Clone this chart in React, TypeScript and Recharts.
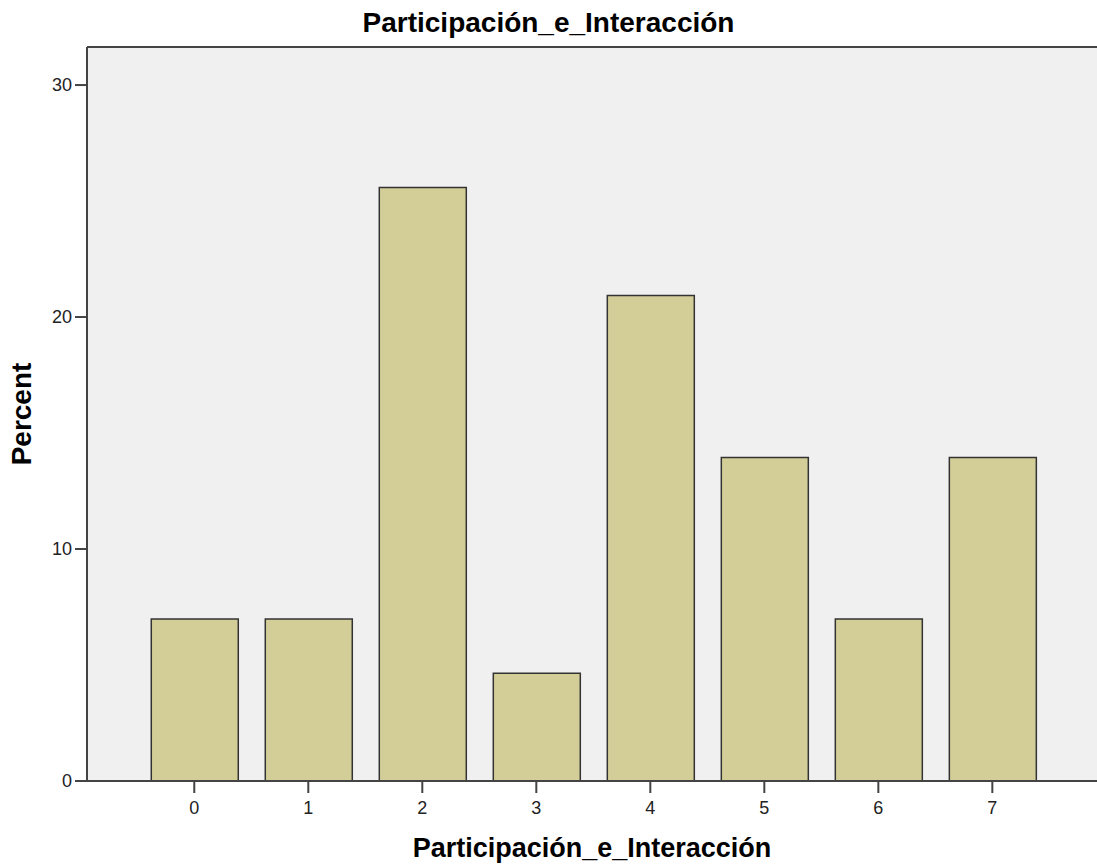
import { BarChart, Bar, XAxis, YAxis, CartesianGrid, ReferenceLine, Label } from 'recharts';

const categories = [0, 1, 2, 3, 4, 5, 6, 7];
const percents = [6.98, 6.98, 25.58, 4.65, 20.93, 13.95, 6.98, 13.95];
const yTicks = [0, 10, 20, 30];

const data = categories.map((c, i) => ({ value: c, percent: percents[i] }));

const FONT = '"Liberation Sans", Arial, sans-serif';
const Y_MAX = 31.64;

export default function App() {
    return (
        <div style={{ position: 'absolute', left: 0, top: 0, width: 1097, height: 866, background: '#fff', fontFamily: FONT }}>
            <div
                style={{
                    position: 'absolute',
                    top: 9,
                    width: 1097,
                    textAlign: 'center',
                    fontWeight: 'bold',
                    fontSize: 28,
                    lineHeight: '28px',
                    color: '#000',
                }}
            >
                Participación_e_Interacción
            </div>
            <BarChart width={1097} height={866} data={data} margin={{ top: 47, right: 0, left: 0, bottom: 0 }}>
                <CartesianGrid fill="#F0F0F0" horizontal={false} vertical={false} />
                <XAxis
                    type="number"
                    dataKey="value"
                    domain={[-0.941, 7.918]}
                    ticks={categories}
                    height={85}
                    tickSize={12}
                    tickMargin={8}
                    tick={{ fontSize: 18, fill: '#222', fontFamily: FONT }}
                    axisLine={{ stroke: '#444', strokeWidth: 2 }}
                    tickLine={{ stroke: '#444', strokeWidth: 2 }}
                    allowDataOverflow
                >
                    <Label
                        value="Participación_e_Interacción"
                        position="insideBottom"
                        offset={9}
                        style={{ fontWeight: 'bold', fontSize: 27, fill: '#000', fontFamily: FONT }}
                    />
                </XAxis>
                <YAxis
                    type="number"
                    domain={[0, Y_MAX]}
                    ticks={yTicks}
                    width={87}
                    tickSize={12}
                    tickMargin={3}
                    tick={{ fontSize: 18, fill: '#222', fontFamily: FONT }}
                    axisLine={{ stroke: '#444', strokeWidth: 2 }}
                    tickLine={{ stroke: '#444', strokeWidth: 2 }}
                    allowDataOverflow
                >
                    <Label
                        value="Percent"
                        angle={-90}
                        position="insideLeft"
                        offset={21}
                        style={{ fontWeight: 'bold', fontSize: 28, fill: '#000', fontFamily: FONT, textAnchor: 'middle' }}
                    />
                </YAxis>
                <ReferenceLine y={Y_MAX} stroke="#444" strokeWidth={2} />
                <Bar
                    dataKey="percent"
                    barSize={87}
                    fill="#D3CE97"
                    stroke="#333"
                    strokeWidth={1.5}
                    isAnimationActive={false}
                />
            </BarChart>
        </div>
    );
}
